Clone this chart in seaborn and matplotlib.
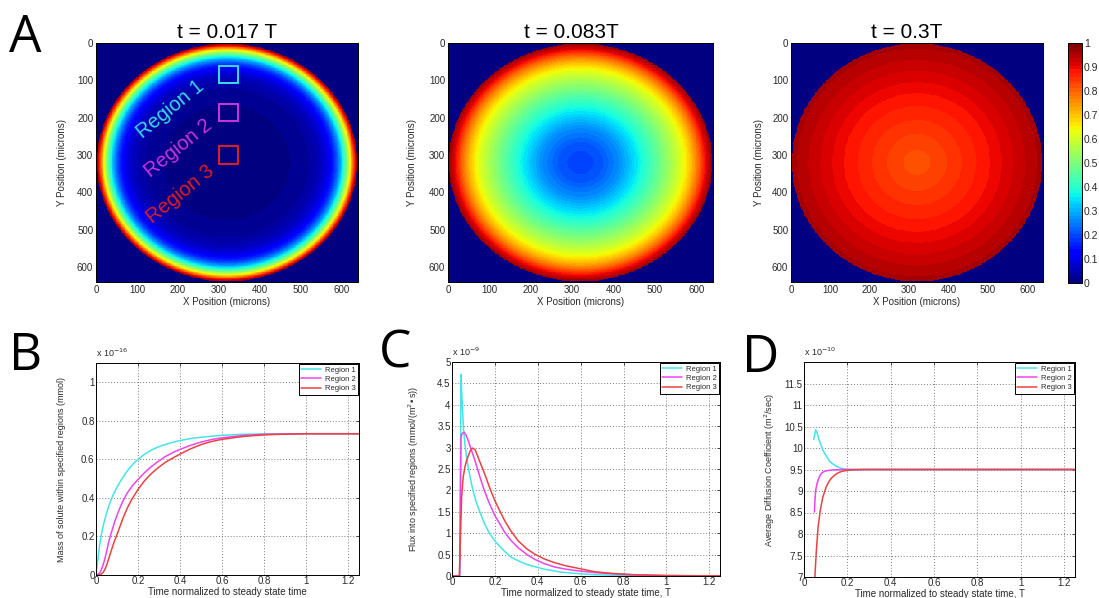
import numpy as np
import pandas as pd
import matplotlib
matplotlib.use("Agg")
import matplotlib.pyplot as plt
from matplotlib.patches import Rectangle
from matplotlib.lines import Line2D
import seaborn as sns

# ---------------- data ----------------
# Radial concentration profiles (normalised radius r/R -> normalised concentration)
prof_r_017 = [0.0, 0.40, 0.55, 0.65, 0.72, 0.78, 0.83, 0.87, 0.90, 0.93, 0.955, 0.975, 0.99, 1.0]
prof_v_017 = [0.01, 0.01, 0.02, 0.035, 0.06, 0.1, 0.18, 0.29, 0.41, 0.55, 0.70, 0.84, 0.94, 0.98]
prof_r_083 = [0.0, 0.15, 0.30, 0.45, 0.60, 0.70, 0.78, 0.85, 0.90, 0.95, 1.0]
prof_v_083 = [0.19, 0.21, 0.27, 0.37, 0.48, 0.56, 0.63, 0.72, 0.80, 0.90, 0.98]
prof_r_300 = [0.0, 0.08, 0.25, 0.40, 0.55, 0.70, 0.85, 1.0]
prof_v_300 = [0.815, 0.825, 0.845, 0.865, 0.885, 0.91, 0.935, 0.96]
snap_titles = ["t = 0.017 T", "t = 0.083T", "t = 0.3T"]

# Sampling regions (x0, y0, width, height) in microns
region_boxes = [(300, 62, 48, 46), (300, 163, 48, 46), (300, 277, 48, 46)]
region_names = ["Region 1", "Region 2", "Region 3"]
region_label_xy = [(182, 177), (201, 282), (207, 404)]

# B: mass of solute (x 1e-16 mmol)
mass_t1 = [0, 0.005, 0.01, 0.015, 0.02, 0.03, 0.04, 0.05, 0.06, 0.07, 0.08, 0.09, 0.10, 0.12, 0.14, 0.16, 0.18, 0.2,
           0.23, 0.26, 0.29, 0.32, 0.36, 0.4, 0.45, 0.5, 0.6, 0.7, 0.8, 1.0, 1.25]
mass_v1 = [0, 0.045, 0.09, 0.135, 0.175, 0.235, 0.28, 0.32, 0.355, 0.385, 0.412, 0.435, 0.456, 0.493, 0.527, 0.556,
           0.58, 0.60, 0.626, 0.646, 0.662, 0.674, 0.687, 0.698, 0.708, 0.715, 0.725, 0.73, 0.732, 0.733, 0.733]
mass_t2 = [0, 0.01, 0.02, 0.03, 0.04, 0.05, 0.06, 0.07, 0.08, 0.09, 0.1, 0.115, 0.13, 0.15, 0.175, 0.2, 0.23, 0.26,
           0.29, 0.33, 0.37, 0.4, 0.45, 0.5, 0.55, 0.6, 0.7, 0.8, 1.0, 1.25]
mass_v2 = [0, 0.003, 0.015, 0.04, 0.075, 0.12, 0.17, 0.21, 0.245, 0.28, 0.31, 0.352, 0.388, 0.428, 0.466, 0.496,
           0.53, 0.56, 0.585, 0.615, 0.638, 0.652, 0.673, 0.69, 0.703, 0.712, 0.724, 0.73, 0.733, 0.733]
mass_t3 = [0, 0.015, 0.025, 0.035, 0.045, 0.055, 0.065, 0.075, 0.085, 0.1, 0.115, 0.13, 0.15, 0.17, 0.2, 0.23, 0.26,
           0.29, 0.33, 0.37, 0.4, 0.45, 0.5, 0.55, 0.6, 0.7, 0.8, 0.9, 1.0, 1.25]
mass_v3 = [0, 0, 0.004, 0.015, 0.035, 0.065, 0.1, 0.135, 0.168, 0.21, 0.255, 0.30, 0.35, 0.392, 0.444, 0.488, 0.523,
           0.552, 0.585, 0.61, 0.628, 0.655, 0.677, 0.693, 0.704, 0.719, 0.727, 0.731, 0.733, 0.733]

# C: flux into regions (x 1e-9 mmol/(m^2 s))
flux_t1 = [0, 0.036, 0.042, 0.047, 0.053, 0.06, 0.068, 0.08, 0.091, 0.105, 0.122, 0.14, 0.153, 0.175, 0.2, 0.24,
           0.278, 0.32, 0.355, 0.43, 0.51, 0.6, 0.665, 0.8, 1.0, 1.25]
flux_v1 = [0, 0, 4.71, 4.1, 3.48, 3.1, 2.77, 2.43, 2.15, 1.86, 1.6, 1.37, 1.21, 1.0, 0.82, 0.6, 0.43, 0.33, 0.26,
           0.16, 0.09, 0.05, 0.03, 0.012, 0.004, 0.001]
flux_t2 = [0, 0.036, 0.042, 0.047, 0.056, 0.065, 0.076, 0.09, 0.107, 0.122, 0.138, 0.153, 0.169, 0.185, 0.2, 0.225,
           0.246, 0.275, 0.309, 0.35, 0.386, 0.43, 0.479, 0.53, 0.588, 0.665, 0.75, 0.85, 1.0, 1.25]
flux_v2 = [0, 0, 3.25, 3.33, 3.36, 3.3, 3.16, 2.95, 2.7, 2.45, 2.19, 1.97, 1.76, 1.58, 1.41, 1.2, 1.02, 0.83, 0.66,
           0.5, 0.39, 0.29, 0.21, 0.16, 0.12, 0.08, 0.05, 0.025, 0.01, 0.002]
flux_t3 = [0, 0.034, 0.04, 0.045, 0.052, 0.06, 0.068, 0.076, 0.085, 0.095, 0.108, 0.122, 0.137, 0.153, 0.175, 0.2,
           0.225, 0.246, 0.275, 0.309, 0.35, 0.386, 0.43, 0.479, 0.53, 0.588, 0.665, 0.75, 0.85, 1.0, 1.25]
flux_v3 = [0, 0, 1.0, 1.85, 2.3, 2.54, 2.7, 2.81, 2.92, 2.99, 2.95, 2.77, 2.58, 2.38, 2.07, 1.76, 1.5, 1.29, 1.05,
           0.82, 0.63, 0.51, 0.4, 0.31, 0.24, 0.18, 0.1, 0.06, 0.03, 0.01, 0.003]

# D: average diffusion coefficient (x 1e-10 m^2/s)
diff_t1 = [0.045, 0.05, 0.054, 0.06, 0.072, 0.085, 0.095, 0.107, 0.117, 0.13, 0.147, 0.165, 0.177, 0.195, 0.21,
           0.25, 0.4, 0.6, 0.8, 1.0, 1.25]
diff_v1 = [10.2, 10.33, 10.42, 10.36, 10.15, 9.98, 9.875, 9.78, 9.70, 9.64, 9.58, 9.54, 9.52, 9.505, 9.5, 9.5, 9.5,
           9.5, 9.5, 9.5, 9.5]
diff_t2 = [0.048, 0.05, 0.054, 0.06, 0.065, 0.072, 0.08, 0.09, 0.102, 0.115, 0.132, 0.155, 0.177, 0.2, 0.25, 0.4,
           0.6, 0.8, 1.0, 1.25]
diff_v2 = [8.51, 8.75, 9.02, 9.17, 9.25, 9.34, 9.41, 9.445, 9.47, 9.48, 9.49, 9.495, 9.5, 9.5, 9.5, 9.5, 9.5, 9.5,
           9.5, 9.5]
diff_t3 = [0.05, 0.057, 0.065, 0.075, 0.087, 0.102, 0.115, 0.125, 0.137, 0.147, 0.16, 0.177, 0.2, 0.223, 0.25, 0.28,
           0.4, 0.6, 0.8, 1.0, 1.25]
diff_v3 = [7.0, 7.61, 8.16, 8.55, 8.86, 9.09, 9.22, 9.29, 9.35, 9.39, 9.43, 9.46, 9.48, 9.49, 9.495, 9.5, 9.5, 9.5,
           9.5, 9.5, 9.5]

x_ticks = [0, 0.2, 0.4, 0.6, 0.8, 1.0, 1.2]
space_ticks = [0, 100, 200, 300, 400, 500, 600]

# ---------------- style ----------------
sns.set_style("white")
plt.rcParams["font.family"] = ["Liberation Sans", "DejaVu Sans"]
plt.rcParams["axes.linewidth"] = 0.7

line_cols = {"Region 1": "#45e4e6", "Region 2": "#ec45ec", "Region 3": "#e84343"}
box_cols = ["#38dcf0", "#cc35dd", "#e21f1f"]
jet64 = plt.get_cmap("jet", 64)
TXT = "#2a2a2a"

W, H = 1099, 598
fig = plt.figure(figsize=(W / 100, H / 100), dpi=100)


def rect(l, t, r, b):
    return [l / W, 1 - b / H, (r - l) / W, (b - t) / H]


# ---------------- concentration maps ----------------
cell = 2.0
n = int(640 / cell)
centres = (np.arange(n) + 0.5) * cell
gx, gy = np.meshgrid(centres, centres)
R = 318.0
rr = np.sqrt((gx - 320) ** 2 + (gy - 320) ** 2) / R

profiles = [(prof_r_017, prof_v_017), (prof_r_083, prof_v_083), (prof_r_300, prof_v_300)]
map_rects = [rect(96, 43, 358, 282), rect(448, 43, 713, 282), rect(791, 43, 1043, 282)]
title_x = [227, 571, 907]
ylab_x = [-0.11, -0.117, -0.107]
cax = fig.add_axes(rect(1068, 43, 1082, 283))

map_axes = []
for i, ((pr, pv), rc) in enumerate(zip(profiles, map_rects)):
    ax = fig.add_axes(rc)
    map_axes.append(ax)
    field = np.interp(rr, pr, pv)
    field[rr > 1] = 0.0
    last = i == 2
    sns.heatmap(field, ax=ax, cmap=jet64, vmin=0, vmax=1, cbar=last,
                cbar_ax=cax if last else None, xticklabels=False, yticklabels=False)
    for s in ax.spines.values():
        s.set_visible(True)
        s.set_color("black")
        s.set_linewidth(0.7)
    ax.set_xticks(np.array(space_ticks) / cell)
    ax.set_xticklabels([str(v) for v in space_ticks], rotation=0)
    ax.set_yticks(np.array(space_ticks) / cell)
    ax.set_yticklabels([str(v) for v in space_ticks], rotation=0)
    ax.tick_params(direction="in", length=2, width=0.6, labelsize=7, colors=TXT, pad=2,
                   top=True, right=True)
    ax.set_xlabel("X Position (microns)", fontsize=7, color=TXT)
    ax.set_ylabel("Y Position (microns)", fontsize=7, color=TXT)
    ax.xaxis.set_label_coords(0.5, -0.063)
    ax.yaxis.set_label_coords(ylab_x[i], 0.5)
    fig.text(title_x[i] / W, 1 - 38 / H, snap_titles[i], ha="center", va="baseline",
             fontsize=15, color="black")
    if i == 0:
        for (bx, by, bw, bh), col, name, (tx, ty) in zip(region_boxes, box_cols,
                                                           region_names, region_label_xy):
            ax.add_patch(Rectangle((bx / cell, by / cell), bw / cell, bh / cell,
                                   fill=False, edgecolor=col, linewidth=1.4))
            ax.text(tx / cell, ty / cell, name, color=col, fontsize=14.5, rotation=39,
                    ha="center", va="center", rotation_mode="anchor")

cb = map_axes[-1].collections[0].colorbar
cb.set_ticks(np.round(np.arange(0, 1.01, 0.1), 1))
cb.set_ticklabels(["0"] + [f"{v:.1f}" for v in np.arange(0.1, 0.95, 0.1)] + ["1"])
cax.tick_params(direction="in", length=2.5, width=0.6, labelsize=7.5, colors=TXT, pad=1.5)
cb.outline.set_edgecolor("black")
cb.outline.set_linewidth(0.7)


# ---------------- time-course panels ----------------
def line_panel(rc, series, ylim, yticks, ylabel, xlabel, exponent, ylab_pos):
    ax = fig.add_axes(rc)
    frames = [pd.DataFrame({"t": t, "v": v, "Region": name}) for name, (t, v) in zip(region_names, series)]
    df = pd.concat(frames, ignore_index=True)
    sns.lineplot(data=df, x="t", y="v", hue="Region", palette=line_cols, estimator=None,
                 sort=False, linewidth=1.1, legend=False, ax=ax)
    ax.set_xlim(0, 1.25)
    ax.set_ylim(*ylim)
    ax.set_xticks(x_ticks)
    ax.set_xticklabels([f"{v:g}" for v in x_ticks])
    ax.set_yticks(yticks)
    ax.set_yticklabels([f"{v:g}" for v in yticks])
    ax.grid(True, linestyle=(0, (1, 2)), color="#7a7a7a", linewidth=0.7)
    for s in ax.spines.values():
        s.set_visible(True)
        s.set_color("black")
        s.set_linewidth(0.7)
    ax.tick_params(direction="in", length=2.5, width=0.6, labelsize=7, colors=TXT, pad=1,
                   top=True, right=True)
    ax.set_xlabel(xlabel, fontsize=7, color=TXT)
    ax.set_ylabel(ylabel, fontsize=6.5, color=TXT)
    ax.xaxis.set_label_coords(0.5, -0.056)
    ax.yaxis.set_label_coords(ylab_pos, 0.5)
    ax.text(0.0, 1.02, r"x 10$^{%d}$" % exponent, transform=ax.transAxes, fontsize=6.5,
            color=TXT, ha="left", va="bottom")
    handles = [Line2D([], [], color=line_cols[nm], linewidth=1.1) for nm in region_names]
    leg = ax.legend(handles, region_names, loc="upper right", fontsize=5.5, frameon=True,
                    fancybox=False, framealpha=1, edgecolor="black", borderaxespad=0.15,
                    borderpad=0.3, labelspacing=0.25, handlelength=2.6, handletextpad=0.5)
    leg.get_frame().set_linewidth(0.7)
    for t in leg.get_texts():
        t.set_color(TXT)
    return ax


line_panel(rect(96, 363, 359, 575),
           [(mass_t1, mass_v1), (mass_t2, mass_v2), (mass_t3, mass_v3)],
           (0, 1.1), [0, 0.2, 0.4, 0.6, 0.8, 1.0],
           "Mass of solute within specified regions (mmol)",
           "Time normalized to steady state time", -16, -0.114)
line_panel(rect(452, 362, 720, 576),
           [(flux_t1, flux_v1), (flux_t2, flux_v2), (flux_t3, flux_v3)],
           (0, 5), [0, 0.5, 1, 1.5, 2, 2.5, 3, 3.5, 4, 4.5, 5],
           "Flux into specified regions (mmol/(m$^{2}$•s))",
           "Time normalized to steady state time, T", -9, -0.116)
line_panel(rect(804, 362, 1075, 577),
           [(diff_t1, diff_v1), (diff_t2, diff_v2), (diff_t3, diff_v3)],
           (7, 12), [7, 7.5, 8, 8.5, 9, 9.5, 10, 10.5, 11, 11.5],
           "Average Diffusion Coefficient (m$^{2}$/sec)",
           "Time normalized to steady state time, T", -10, -0.1)

# ---------------- panel letters ----------------
for letter, (px, py) in zip("ABCD", [(9, 52), (9, 370), (379, 368), (742, 372)]):
    fig.text(px / W, 1 - py / H, letter, fontsize=37, family=["Open Sans", "DejaVu Sans"],
             ha="left", va="baseline", color="black")

fig.savefig("out.png", dpi=100)
